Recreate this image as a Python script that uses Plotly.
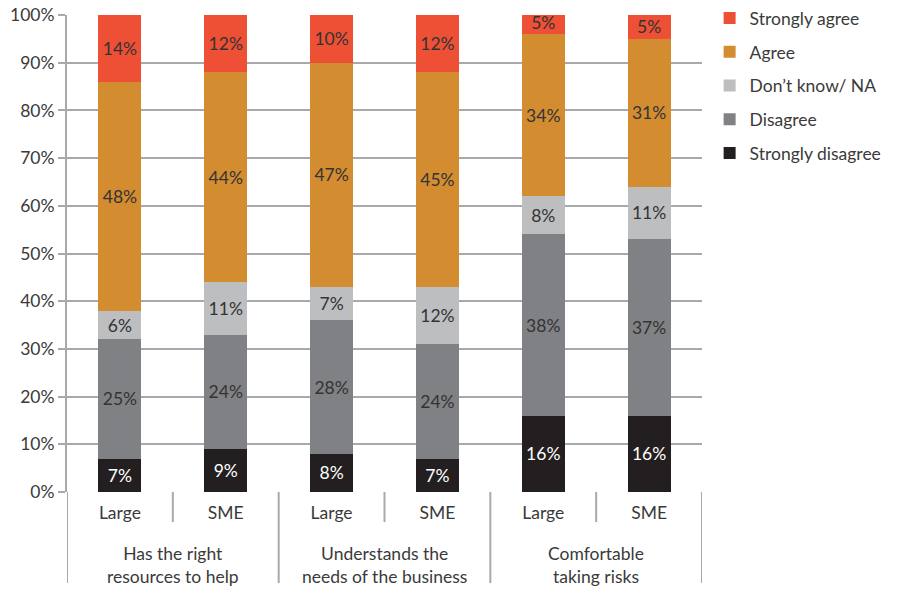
import plotly.graph_objects as go

# Survey response shares (%) per company size within each statement
statements = ["Has the right<br>resources to help",
              "Understands the<br>needs of the business",
              "Comfortable<br>taking risks"]
sizes = ["Large", "SME"]

strongly_disagree = [7, 9, 8, 7, 16, 16]
disagree = [25, 24, 28, 24, 38, 37]
dont_know = [6, 11, 7, 12, 8, 11]
agree = [48, 44, 47, 45, 34, 31]
strongly_agree = [14, 12, 10, 12, 5, 5]

series = [
    ("Strongly disagree", strongly_disagree, "#231F20", "#FFFFFF"),
    ("Disagree", disagree, "#808184", "#333333"),
    ("Don\u2019t know/ NA", dont_know, "#BDBEC0", "#333333"),
    ("Agree", agree, "#D48C31", "#333333"),
    ("Strongly agree", strongly_agree, "#EE5035", "#333333"),
]

FONT = "Lato, 'Noto Sans', sans-serif"
FS = 17.5
GRID = "#A7A9AC"
TEXT = "#3A3A3A"

xs = list(range(len(statements) * len(sizes)))
fig = go.Figure()
for i, (name, vals, color, tcolor) in enumerate(series):
    fig.add_trace(go.Bar(
        x=xs, y=vals, name=name, width=0.405,
        marker=dict(color=color, line=dict(width=0)),
        text=[f"{v}%" for v in vals], textposition="inside",
        insidetextanchor="middle", constraintext="none",
        textfont=dict(family=FONT, size=FS, color=tcolor),
        legendgroup=f"g{i}", legendrank=len(series) - i,
        hoverinfo="skip",
    ))

shapes = []
# separators beneath the axis: short between sizes, long between statements
for k in range(len(xs) + 1):
    xpos = k - 0.5
    long = (k % len(sizes) == 0)
    shapes.append(dict(type="line", xref="x", yref="paper",
                       x0=xpos, x1=xpos, y0=0, y1=-0.191 if long else -0.063,
                       line=dict(color=GRID, width=2)))

annotations = []
for g, st in enumerate(statements):
    annotations.append(dict(x=g * len(sizes) + 0.5, y=-0.103, xref="x", yref="paper",
                            text=st, showarrow=False, yanchor="top",
                            font=dict(family=FONT, size=FS, color=TEXT)))

fig.update_layout(
    barmode="stack",
    width=909, height=590,
    margin=dict(l=67, r=207, t=15, b=98, autoexpand=False),
    plot_bgcolor="white", paper_bgcolor="white",
    font=dict(family=FONT, size=FS, color=TEXT),
    showlegend=True,
    legend=dict(x=1.012, y=1.031, xanchor="left", yanchor="top",
                traceorder="grouped", tracegroupgap=8,
                font=dict(family=FONT, size=FS, color=TEXT),
                itemclick=False, itemdoubleclick=False),
    shapes=shapes,
    annotations=annotations,
    xaxis=dict(range=[-0.5, 5.5], tickmode="array", tickvals=xs,
               ticktext=sizes * len(statements), showgrid=False,
               ticks="", ticklabelstandoff=8,
               tickfont=dict(family=FONT, size=FS, color=TEXT),
               showline=False, zeroline=False, fixedrange=True),
    yaxis=dict(range=[0, 100], dtick=10, ticksuffix="%", showgrid=True,
               gridcolor=GRID, gridwidth=2, ticks="outside", ticklen=7,
               tickcolor=GRID, tickwidth=2, showline=True, linecolor=GRID,
               linewidth=2, zeroline=False,
               tickfont=dict(family=FONT, size=FS, color=TEXT), fixedrange=True),
)

fig.write_html("out.html", config={"displayModeBar": False})
